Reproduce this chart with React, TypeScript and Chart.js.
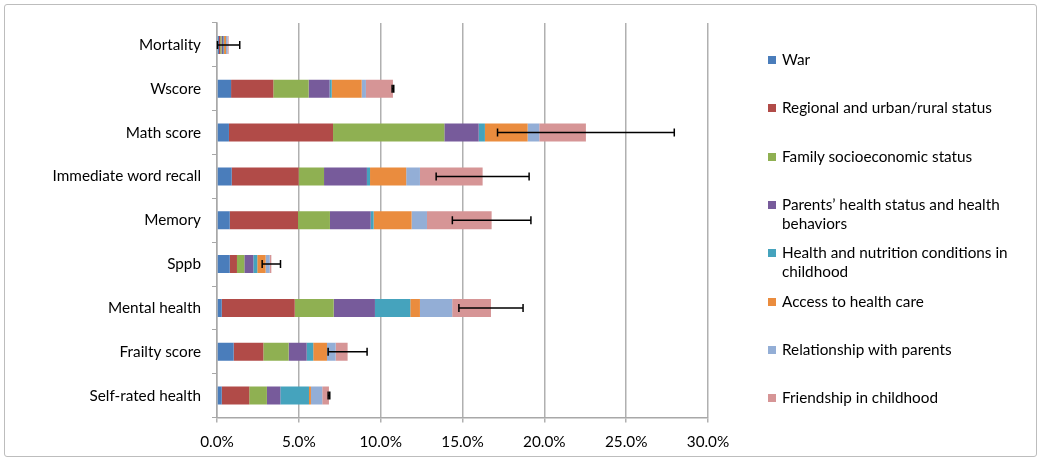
import React, { useEffect, useRef } from "react";
import { Chart, registerables } from "chart.js";

Chart.register(...registerables);

const categories = [
  "Mortality",
  "Wscore",
  "Math score",
  "Immediate word recall",
  "Memory",
  "Sppb",
  "Mental health",
  "Frailty score",
  "Self-rated health",
];

const seriesNames = [
  "War",
  "Regional and urban/rural status",
  "Family socioeconomic status",
  "Parents’ health status and health behaviors",
  "Health and nutrition conditions in childhood",
  "Access to health care",
  "Relationship with parents",
  "Friendship in childhood",
];

const war = [0.12, 0.86, 0.73, 0.9, 0.78, 0.78, 0.29, 1.02, 0.29];
const regional = [0.08, 2.58, 6.36, 4.09, 4.17, 0.44, 4.46, 1.81, 1.68];
const family = [0.08, 2.16, 6.8, 1.55, 1.95, 0.45, 2.38, 1.55, 1.08];
const parents = [0.1, 1.28, 2.1, 2.62, 2.49, 0.55, 2.52, 1.1, 0.82];
const nutrition = [0.05, 0.13, 0.38, 0.19, 0.18, 0.24, 2.16, 0.4, 1.75];
const access = [0.12, 1.83, 2.61, 2.21, 2.32, 0.51, 0.59, 0.84, 0.12];
const relationship = [0.1, 0.26, 0.71, 0.84, 0.94, 0.25, 1.97, 0.53, 0.69];
const friendship = [0.06, 1.65, 2.85, 3.83, 3.95, 0.1, 2.37, 0.73, 0.41];

const errors = [0.68, 0.05, 5.4, 2.84, 2.4, 0.56, 1.96, 1.19, 0.05];

const xTicks = [0, 5, 10, 15, 20, 25, 30];

const colors = [
  "#4a7dbb",
  "#b14b48",
  "#8fb052",
  "#775b9b",
  "#45a3bd",
  "#ea8c3e",
  "#93aed6",
  "#d69596",
];

const FONT = "Lato, 'Open Sans', sans-serif";
const FS = 15.3;

const errorBarPlugin = {
  id: "errorBars",
  afterDatasetsDraw(chart: any) {
    const { ctx } = chart;
    const xs = chart.scales.x;
    const ys = chart.scales.y;
    ctx.save();
    ctx.strokeStyle = "#000";
    ctx.lineWidth = 1.5;
    categories.forEach((_, i) => {
      let total = 0;
      chart.data.datasets.forEach((d: any) => (total += d.data[i]));
      const e = errors[i];
      const y = ys.getPixelForValue(i);
      const x1 = xs.getPixelForValue(total - e);
      const x2 = xs.getPixelForValue(total + e);
      ctx.beginPath();
      ctx.moveTo(x1, y);
      ctx.lineTo(x2, y);
      ctx.moveTo(x1, y - 4);
      ctx.lineTo(x1, y + 4);
      ctx.moveTo(x2, y - 4);
      ctx.lineTo(x2, y + 4);
      ctx.stroke();
    });
    ctx.restore();
  },
};

export default function App() {
  const canvasRef = useRef<HTMLCanvasElement | null>(null);

  useEffect(() => {
    if (!canvasRef.current) return;
    const seriesValues = [war, regional, family, parents, nutrition, access, relationship, friendship];
    const chart = new Chart(canvasRef.current, {
      type: "bar",
      data: {
        labels: categories,
        datasets: seriesValues.map((vals, i) => ({
          label: seriesNames[i],
          data: vals,
          backgroundColor: colors[i],
          borderWidth: 0,
          barPercentage: 0.41,
          categoryPercentage: 1,
        })),
      },
      options: {
        indexAxis: "y",
        animation: false,
        responsive: true,
        maintainAspectRatio: false,
        layout: { padding: { left: 0, top: 23, right: 332, bottom: 0 } },
        plugins: { legend: { display: false }, tooltip: { enabled: false } },
        scales: {
          x: {
            stacked: true,
            min: 0,
            max: 30,
            afterBuildTicks: (s: any) => {
              s.ticks = xTicks.map((v) => ({ value: v }));
            },
            afterFit: (s: any) => {
              s.height = 44.5;
            },
            grid: {
              color: "#b0b0b0",
              lineWidth: 1.5,
              tickLength: 5,
            },
            border: { color: "#a8a8a8", width: 1.5 },
            ticks: {
              color: "#000",
              font: { family: FONT, size: FS },
              padding: 10,
              callback: (v: any) => Number(v).toFixed(1) + "%",
            },
          },
          y: {
            stacked: true,
            afterFit: (s: any) => {
              s.width = 217;
            },
            grid: {
              drawOnChartArea: false,
              color: "#a8a8a8",
              lineWidth: 1,
              tickLength: 5,
            },
            border: { color: "#a8a8a8", width: 1.5 },
            ticks: {
              color: "#000",
              font: { family: FONT, size: FS },
              padding: 11,
            },
          },
        },
      },
      plugins: [errorBarPlugin],
    });
    return () => chart.destroy();
  }, []);

  const legendCenters = [60, 108, 157, 205, 253, 302, 350, 398];

  return (
    <div style={{ position: "absolute", left: 0, top: 0, width: 1040, height: 462 }}>
      <div
        style={{
          position: "absolute",
          left: 4,
          top: 4,
          width: 1033,
          height: 453,
          border: "1px solid #bdbdbd",
          borderRadius: 3,
          boxSizing: "border-box",
        }}
      />
      <div style={{ position: "absolute", left: 0, top: 0, width: 1040, height: 462 }}>
        <canvas ref={canvasRef} />
      </div>
      {seriesNames.map((name, i) => (
        <div
          key={name}
          style={{
            position: "absolute",
            left: 768,
            top: legendCenters[i] - 10,
            width: 262,
            fontFamily: FONT,
            fontSize: FS,
            lineHeight: "19px",
            color: "#000",
          }}
        >
          <span
            style={{
              position: "absolute",
              left: 0,
              top: 6,
              width: 8,
              height: 8,
              background: colors[i],
            }}
          />
          <div style={{ marginLeft: 14, width: 240 }}>{name}</div>
        </div>
      ))}
    </div>
  );
}
